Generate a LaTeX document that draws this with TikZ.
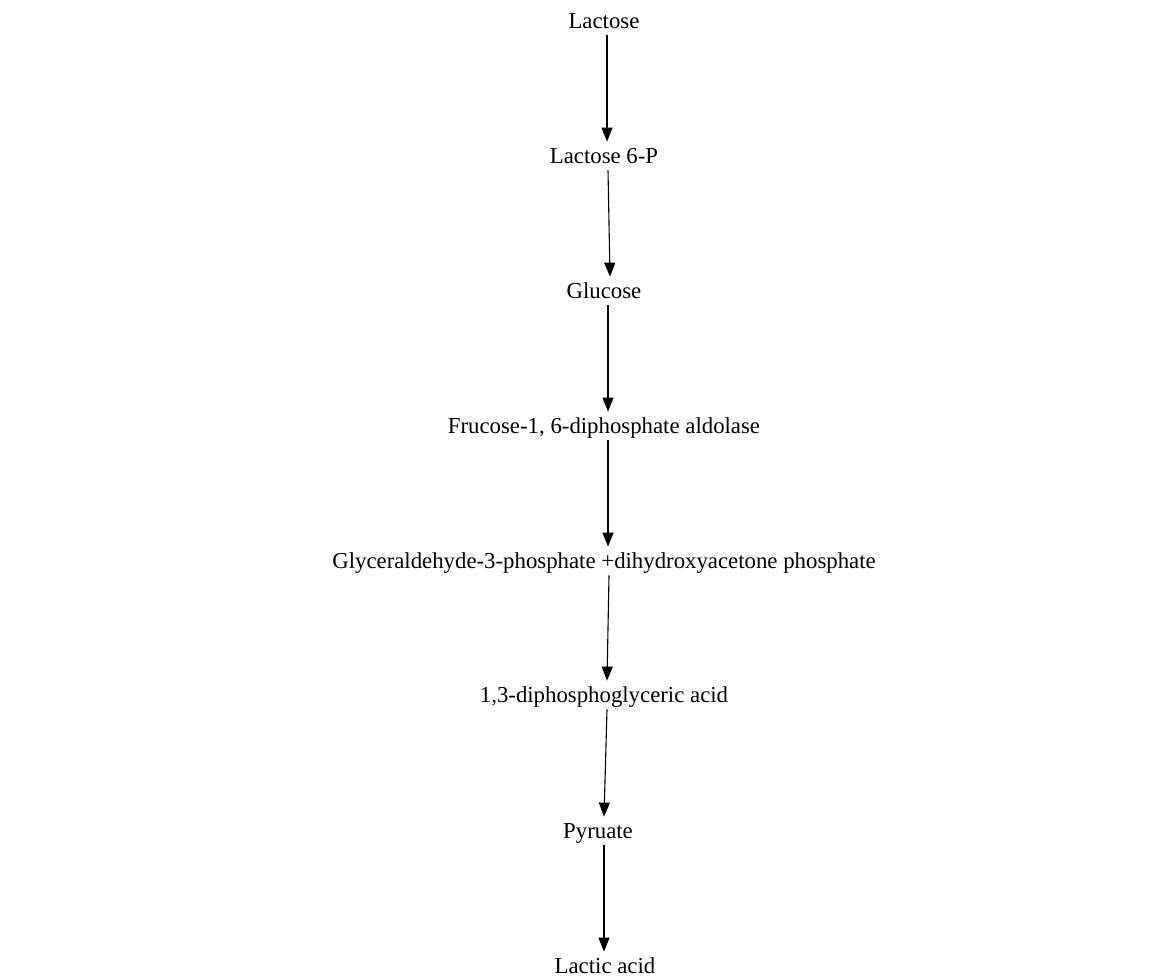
\documentclass[tikz,border=0pt]{standalone}
\usepackage{fontspec}
\setmainfont{Liberation Serif}
\usetikzlibrary{arrows.meta}
\begin{document}
\begin{tikzpicture}[x=0.5pt,y=-0.5pt,
  lbl/.style={anchor=base,inner sep=2.5pt,text height=8pt,text depth=1pt,font=\fontsize{11.4}{13}\selectfont},
  arr/.style={line width=0.55pt,-{Triangle[length=7pt,width=5.5pt]}}]
\useasboundingbox (0,0) rectangle (1166,976);
\node[lbl] (n1) at (604,28) {Lactose};
\node[lbl] (n2) at (604,163) {Lactose 6-P};
\node[lbl] (n3) at (604,298) {Glucose};
\node[lbl] (n4) at (604,433) {Frucose-1, 6-diphosphate aldolase};
\node[lbl] (n5) at (604,568) {Glyceraldehyde-3-phosphate +dihydroxyacetone phosphate};
\node[lbl] (n6) at (604,702) {1,3-diphosphoglyceric acid};
\node[lbl] (n7) at (598,838) {Pyruate};
\node[lbl] (n8) at (605,973) {Lactic acid};
\draw[arr] ([xshift=1.5pt]n1.south) -- ([xshift=1.5pt]n2.north);
\draw[arr] ([xshift=2pt]n2.south) -- ([xshift=3pt]n3.north);
\draw[arr] ([xshift=2pt]n3.south) -- ([xshift=2pt]n4.north);
\draw[arr] ([xshift=2pt]n4.south) -- ([xshift=2pt]n5.north);
\draw[arr] ([xshift=2.5pt]n5.south) -- ([xshift=1.5pt]n6.north);
\draw[arr] ([xshift=1.5pt]n6.south) -- ([xshift=3pt]n7.north);
\draw[arr] ([xshift=3pt]n7.south) -- ([xshift=-0.5pt]n8.north);
\end{tikzpicture}
\end{document}
